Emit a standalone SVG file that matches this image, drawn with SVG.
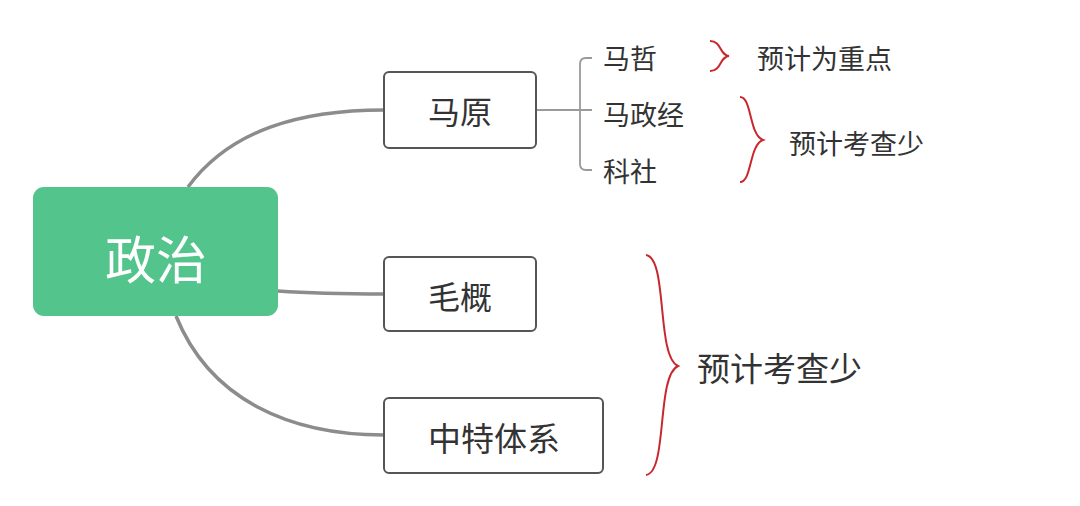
<svg xmlns="http://www.w3.org/2000/svg" width="1080" height="506" viewBox="0 0 1080 506">
<style>
.box{fill:#fff;stroke:#555;stroke-width:2}
.t{font-family:"Noto Sans CJK SC",sans-serif;fill:#333;dominant-baseline:central}
.c{fill:none;stroke:#8c8c8c;stroke-width:3.5}
.b{fill:none;stroke:#9a9a9a;stroke-width:1.8}
.r{fill:none;stroke:#c8282d;stroke-width:2}
</style>
<rect width="1080" height="506" fill="#fff"/>
<g id="connectors">
<path class="c" d="M188,187 C230,130 300,110 384,110"/>
<path class="c" d="M278,291 C320,294 350,294 384,294"/>
<path class="c" d="M176,316 C210,400 290,435 384,435"/>
<path class="b" d="M536,110 H592 M592,58 H586 Q580,58 580,64 V164 Q580,170 586,170 H592"/>
</g>
<g id="n-root">
<rect x="33" y="187" width="245" height="129" rx="11" fill="#52c48c"/>
<text class="t" x="156" y="257" font-size="51" text-anchor="middle" style="fill:#fff">政治</text>
</g>
<g id="n-mayuan">
<rect class="box" x="384" y="72" width="152" height="76" rx="5"/>
<text class="t" x="460" y="110" font-size="32" text-anchor="middle">马原</text>
</g>
<g id="n-maogai">
<rect class="box" x="384" y="257" width="152" height="74" rx="5"/>
<text class="t" x="460" y="295" font-size="32" text-anchor="middle">毛概</text>
</g>
<g id="n-zhongte">
<rect class="box" x="384" y="398" width="219" height="75" rx="5"/>
<text class="t" x="494" y="437" font-size="33" text-anchor="middle">中特体系</text>
</g>
<g id="n-mazhe"><text class="t" x="603" y="57" font-size="27">马哲</text></g>
<g id="n-mazhengjing"><text class="t" x="603" y="113" font-size="27">马政经</text></g>
<g id="n-keshe"><text class="t" x="603" y="170" font-size="27">科社</text></g>
<g id="note1">
<path class="r" d="M710,41 C722,41 719,55 729,56 C719,57 722,71 710,71"/>
<text class="t" x="757" y="57" font-size="27">预计为重点</text>
</g>
<g id="note2">
<path class="r" d="M740,97 C752,97 749,135 763,140 C749,145 752,182 740,182"/>
<text class="t" x="789" y="142" font-size="27">预计考查少</text>
</g>
<g id="note3">
<path class="r" d="M646,255 C668,258 656,356 678,366 C656,376 668,472 646,475"/>
<text class="t" x="697" y="367" font-size="33">预计考查少</text>
</g>
</svg>
